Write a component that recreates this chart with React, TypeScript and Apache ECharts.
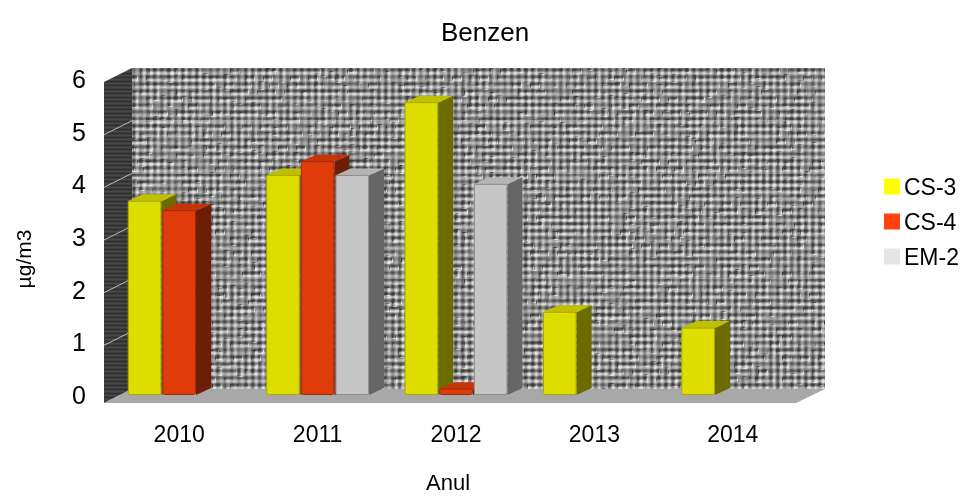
import React, { useEffect, useRef } from "react";
import * as echarts from "echarts";

const years = ["2010", "2011", "2012", "2013", "2014"];
const cs3 = [3.68, 4.17, 5.55, 1.57, 1.27];
const cs4 = [3.5, 4.43, 0.11, null, null];
const em2 = [null, 4.17, 4.0, null, null];
const yTicks = [0, 1, 2, 3, 4, 5, 6];

const FONT = "Liberation Sans";
const palette = [
  { legend: "#ffff00", front: "#dddd00", edge: "#a8a800", top: "#c0c000", side: "#6b6b00" },
  { legend: "#ff420e", front: "#e03c0a", edge: "#a02a06", top: "#c83408", side: "#6e1e04" },
  { legend: "#e6e6e6", front: "#c6c6c6", edge: "#8e8e8e", top: "#b4b4b4", side: "#666666" },
];

const hash = (a: number, b: number) => {
  const s = Math.sin(a * 127.1 + b * 311.7) * 43758.5453;
  return s - Math.floor(s);
};

function wallTexture(w: number, h: number) {
  const c = document.createElement("canvas");
  c.width = w;
  c.height = h;
  const ctx = c.getContext("2d")!;
  const img = ctx.createImageData(w, h);
  const P = 7;
  const field = (x: number, y: number) => {
    const row = Math.floor(y / P);
    const col = Math.floor(x / P);
    const horiz = Math.sin((Math.PI * (y % P)) / P) ** 2 * (0.35 + hash(Math.floor((x + row * 3) / 9), row));
    const vert = Math.sin((Math.PI * (x % P)) / P) ** 2 * (0.3 + hash(col, Math.floor((y + col * 5) / 8) + 50)) * 0.8;
    return horiz + vert;
  };
  for (let y = 0; y < h; y++) {
    for (let x = 0; x < w; x++) {
      const d = field(x + 1, y + 1) - field(x, y);
      const v = Math.max(60, Math.min(225, 140 - d * 125));
      const i = (y * w + x) * 4;
      img.data[i] = img.data[i + 1] = img.data[i + 2] = v;
      img.data[i + 3] = 255;
    }
  }
  ctx.putImageData(img, 0, 0);
  const out = document.createElement("canvas");
  out.width = w;
  out.height = h;
  const octx = out.getContext("2d")!;
  octx.filter = "blur(0.6px)";
  octx.drawImage(c, 0, 0);
  return out.toDataURL();
}

function stripeTexture() {
  const c = document.createElement("canvas");
  c.width = 4;
  c.height = 4;
  const ctx = c.getContext("2d")!;
  ctx.fillStyle = "#3e3e3e";
  ctx.fillRect(0, 0, 4, 4);
  ctx.fillStyle = "#2e2e2e";
  ctx.fillRect(0, 1, 4, 1);
  ctx.fillStyle = "#474747";
  ctx.fillRect(0, 3, 4, 1);
  return c.toDataURL();
}

const DX = 15, DY = -7;

function barRender(idx: number) {
  return (params: any, api: any) => {
    const v = api.value(1);
    if (v == null || isNaN(v)) return null;
    const band = api.size([1, 0])[0];
    const w = band * 0.243;
    const cx = api.coord([api.value(0), 0])[0];
    const x0 = cx + (idx - 1) * (w + 1) - w / 2;
    const base = api.coord([api.value(0), 0])[1];
    const topY = api.coord([api.value(0), v])[1];
    const c = palette[idx];
    const x1 = x0 + w;
    return {
      type: "group",
      children: [
        { type: "polygon", shape: { points: [[x1, topY], [x1 + DX, topY + DY], [x1 + DX, base + DY], [x1, base]] }, style: { fill: c.side } },
        { type: "polygon", shape: { points: [[x0, topY], [x0 + DX, topY + DY], [x1 + DX, topY + DY], [x1, topY]] }, style: { fill: c.top } },
        { type: "rect", shape: { x: x0 + 0.5, y: topY, width: w - 1, height: base - topY - 0.5, r: [0, 0, 2, 2] }, style: { fill: c.front, stroke: c.edge, lineWidth: 1 } },
      ],
    };
  };
}

export default function App() {
  const ref = useRef<HTMLDivElement>(null);
  useEffect(() => {
    const chart = echarts.init(ref.current!, undefined, { renderer: "svg" });
    const barSeries = [
      { name: "CS-3", values: cs3 },
      { name: "CS-4", values: cs4 },
      { name: "EM-2", values: em2 },
    ].map((s, i) => ({
      type: "custom" as const,
      name: s.name,
      itemStyle: { color: palette[i].legend },
      encode: { x: 0, y: 1 },
      data: s.values.map((v, k) => [k, v]),
      renderItem: barRender(i),
      z: 5,
    }));
    chart.setOption({
      animation: false,
      textStyle: { fontFamily: FONT },
      title: {
        text: "Benzen",
        left: 480,
        top: 14,
        textAlign: "center",
        textStyle: { fontFamily: FONT, fontSize: 26, fontWeight: "normal", color: "#000" },
      },
      legend: {
        orient: "vertical",
        left: 884,
        top: 175,
        itemWidth: 16,
        itemHeight: 16,
        itemGap: 12,
        padding: 0,
        icon: "rect",
        selectedMode: false,
        data: ["CS-3", "CS-4", "EM-2"],
        textStyle: { fontFamily: FONT, fontSize: 23, color: "#000", padding: [0, 0, 0, -1] },
      },
      grid: { left: 110, right: 169, top: 79, bottom: 98 },
      xAxis: {
        type: "category",
        data: years,
        name: "Anul",
        nameLocation: "middle",
        nameGap: 76,
        nameTextStyle: { fontFamily: FONT, fontSize: 22, color: "#000", padding: [0, 16, 0, 0] },
        axisLine: { show: false },
        axisTick: { show: false },
        axisLabel: { fontFamily: FONT, fontSize: 23, color: "#000", margin: 27 },
      },
      yAxis: {
        type: "value",
        min: 0,
        max: 6,
        interval: 1,
        name: "µg/m3",
        nameLocation: "middle",
        nameGap: 76,
        nameTextStyle: { fontFamily: FONT, fontSize: 21, color: "#000", padding: [0, 44, 0, 0] },
        axisLine: { show: false },
        axisTick: { show: false },
        splitLine: { show: false },
        axisLabel: { fontFamily: FONT, fontSize: 25, color: "#000", margin: 24, padding: [5, 0, 0, 0] },
      },
      graphic: [
        {
          type: "polygon",
          silent: true,
          z: -3,
          shape: { points: [[104, 82], [132, 68], [132, 389], [104, 403]] },
          style: { fill: { image: stripeTexture(), repeat: "repeat", imageWidth: 4, imageHeight: 4 } },
        },
        {
          type: "polygon",
          silent: true,
          z: -3,
          shape: { points: [[104, 403], [132, 389], [825, 389], [796, 403]] },
          style: { fill: "#a8a8a8" },
        },
        {
          type: "image",
          silent: true,
          z: -3,
          x: 132,
          y: 68,
          style: { image: wallTexture(693, 321), x: 0, y: 0, width: 693, height: 321 },
        },
      ],
      series: [
        {
          type: "custom",
          name: "grid",
          silent: true,
          z: 1,
          encode: { y: 0 },
          data: yTicks.map((t) => [t]),
          renderItem: (params: any, api: any) => {
            const t = api.value(0);
            if (t === 0 || t === 6) return null;
            const y = api.coord([0, t])[1] + 3;
            return {
              type: "group",
              children: [
                { type: "line", shape: { x1: 104, y1: y, x2: 132, y2: y - 14 }, style: { stroke: "#bdbdbd", lineWidth: 1 } },
                { type: "line", shape: { x1: 132, y1: y - 14, x2: 825, y2: y - 14 }, style: { stroke: "rgba(225,225,225,0.35)", lineWidth: 1 } },
              ],
            };
          },
        },
        ...barSeries,
      ],
    });
    return () => chart.dispose();
  }, []);
  return <div ref={ref} style={{ position: "fixed", left: 0, top: 0, width: 971, height: 498 }} />;
}
